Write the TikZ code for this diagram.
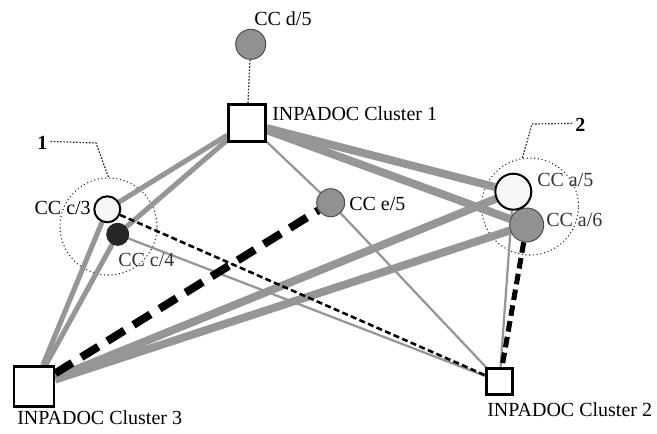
\documentclass[tikz,border=0pt]{standalone}
\usepackage{fontspec}
\setmainfont{Liberation Serif}
\usepackage{tikz}
\usetikzlibrary{backgrounds}

\definecolor{linkgray}{RGB}{150,150,150}
\definecolor{ccgray}{RGB}{145,145,145}
\definecolor{ccwhite}{RGB}{246,246,246}

\begin{document}
\begin{tikzpicture}[x=0.75pt,y=0.75pt,yscale=-1,xscale=1,
    every node/.style={font=\fontsize{15}{18}\selectfont},
    cluster/.style={draw,line width=1.9pt,fill=white,rectangle,inner sep=0pt},
    cc/.style={draw,circle,inner sep=0pt},
    ccfull/.style={cc,fill=ccgray,draw=black!70,line width=0.75pt},
    ccopen/.style={cc,fill=ccwhite,draw=black,line width=1.5pt},
    ccdark/.style={cc,fill=black!85,draw=black!85,line width=0.75pt},
    group/.style={draw=black!85,circle,dotted,line width=0.8pt,inner sep=0pt,minimum size=72.75pt},
    strong/.style={draw=linkgray,line width=6pt},
    medium/.style={draw=linkgray,line width=3.8pt},
    weak/.style={draw=linkgray,line width=1.7pt},
    bigdash/.style={draw=black,line width=6pt,dash pattern=on 15pt off 8pt},
    middash/.style={draw=black,line width=3.8pt,dash pattern=on 8pt off 4pt},
    smalldash/.style={draw=black,line width=1.9pt,dash pattern=on 4.5pt off 2.5pt},
    leader/.style={draw=black!85,line width=0.9pt,dash pattern=on 1.2pt off 1.2pt}]
  \useasboundingbox (0,0) rectangle (657,433);

  %Patent clusters
  \node[cluster,minimum size=27.75pt] (ipc1) at (247,123) {};
  \node[cluster,minimum size=19.5pt] (ipc2) at (499.5,381.5) {};
  \node[cluster,minimum size=30pt] (ipc3) at (34,386.5) {};

  %Circles
  \node[ccfull,minimum size=22.5pt] (d5) at (250.7,44.3) {};
  \node[ccopen,minimum size=19.5pt] (c3) at (107.3,209.3) {};
  \node[ccdark,minimum size=16.5pt] (c4) at (117.7,234.3) {};
  \node[ccfull,minimum size=21pt] (e5) at (330.7,202.7) {};
  \node[ccfull,minimum size=25.5pt] (a6) at (526.7,225) {};
  \node[ccopen,minimum size=27pt] (a5) at (513.3,191.7) {};

  \begin{pgfonlayer}{background}
  %Groups
  \node[group] (grp1) at (108.5,226.5) {};
  \node[group] (grp2) at (530,206.5) {};

  %Gray links
  \draw[medium] (ipc1) -- (c3) ;
  \draw[medium] (ipc1) -- (c4) ;
  \draw[strong] (ipc1) -- (a5) ;
  \draw[strong] (ipc1) -- (a6) ;
  \draw[weak] (ipc1) -- (e5) ;
  \draw[weak] (e5) -- (ipc2) ;
  \draw[medium] (ipc3) -- (c3) ;
  \draw[medium] (ipc3) -- (c4) ;
  \draw[strong] (ipc3) -- (a5) ;
  \draw[strong] (ipc3) -- (a6) ;
  \draw[weak] (c4) -- (ipc2) ;
  \draw[weak] (a5) -- (ipc2) ;

  %Dashed links
  \draw[bigdash] (ipc3) -- (e5) ;
  \draw[middash] (a6) -- (ipc2) ;
  \draw[smalldash] (c3) -- (ipc2) ;
  \draw[leader] (d5) -- (ipc1) ;
  \end{pgfonlayer}

  %Labels
  \node[anchor=base west,inner sep=0pt] (d5lbl) at (254,25) {CC d/5};
  \node[anchor=base west,inner sep=0pt] (ipc1lbl) at (272,120) {INPADOC Cluster 1};
  \node[anchor=base west,inner sep=0pt] (ipc2lbl) at (487,416) {INPADOC Cluster 2};
  \node[anchor=base west,inner sep=0pt] (ipc3lbl) at (17,424) {INPADOC Cluster 3};
  \node[anchor=base east,inner sep=0pt] (c3lbl) at (91,214) {CC c/3};
  \node[anchor=base west,inner sep=0pt,text=black!80] (c4lbl) at (118,266) {CC c/4};
  \node[anchor=base west,inner sep=0pt] (e5lbl) at (349,210) {CC e/5};
  \node[anchor=base west,inner sep=0pt,text=black!80] (a5lbl) at (537,186) {CC a/5};
  \node[anchor=base west,inner sep=0pt,text=black!80] (a6lbl) at (546,226) {CC a/6};

  %Group labels and leaders
  \node[anchor=base west,inner sep=0pt,font=\fontsize{15}{18}\bfseries] (g1lbl) at (37,149) {1};
  \node[anchor=base west,inner sep=0pt,font=\fontsize{15}{18}\bfseries] (g2lbl) at (575,131) {2};
  \coordinate (g1bend) at (96,143);
  \coordinate (g2bend) at (532,124);
  \draw[leader] (g1lbl.east) ++(3,-1) -- (g1bend) -- (grp1.north) ;
  \draw[leader] (g2lbl.west) ++(-3,-1) -- (g2bend) -- (grp2.99) ;
\end{tikzpicture}
\end{document}
